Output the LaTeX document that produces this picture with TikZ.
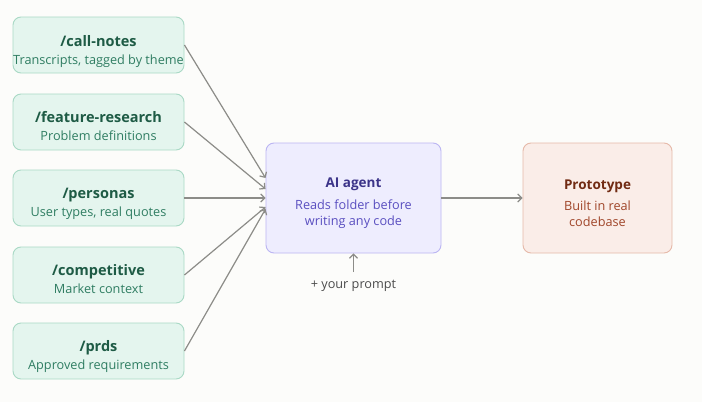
\documentclass[tikz,border=0pt]{standalone}
\usepackage{fontspec}
\setmainfont{Open Sans}
\usetikzlibrary{arrows.meta}
\definecolor{bgc}{HTML}{FCFCFA}
\definecolor{gfill}{HTML}{E4F5EE}
\definecolor{gdraw}{HTML}{A9D9C5}
\definecolor{gtitle}{HTML}{1E5B45}
\definecolor{gsub}{HTML}{2F7D62}
\definecolor{pfill}{HTML}{EEEDFE}
\definecolor{pdraw}{HTML}{BBB5F2}
\definecolor{ptitle}{HTML}{3C3489}
\definecolor{psub}{HTML}{5A4FC0}
\definecolor{ofill}{HTML}{FAEDE8}
\definecolor{odraw}{HTML}{E6B9A9}
\definecolor{otitle}{HTML}{712B13}
\definecolor{osub}{HTML}{A0462A}
\definecolor{arr}{HTML}{8C8C88}
\begin{document}
\begin{tikzpicture}[x=1pt,y=-1pt,
  basebox/.style={draw, line width=0.9pt, rounded corners=8pt, inner sep=0pt},
  greenbox/.style={basebox, fill=gfill, draw=gdraw, minimum width=171pt, minimum height=56pt},
  agentbox/.style={basebox, fill=pfill, draw=pdraw, minimum width=175pt, minimum height=110pt},
  protobox/.style={basebox, fill=ofill, draw=odraw, minimum width=149pt, minimum height=110pt},
  txtbase/.style={anchor=base, inner sep=0pt},
  greentitle/.style={txtbase, text=gtitle, font=\fontsize{14.5}{16}\selectfont\bfseries},
  greensub/.style={txtbase, text=gsub, font=\fontsize{12.7}{13}\selectfont},
  agenttitle/.style={txtbase, text=ptitle, font=\fontsize{13.5}{16}\selectfont\bfseries},
  agentsub/.style={txtbase, text=psub, font=\fontsize{12.7}{13}\selectfont},
  prototitle/.style={txtbase, text=otitle, font=\fontsize{13.5}{16}\selectfont\bfseries},
  protosub/.style={txtbase, text=osub, font=\fontsize{12.7}{13}\selectfont},
  con/.style={draw=arr, line width=1.2pt, -{Straight Barb[length=4pt,width=8pt]}}
]
\fill[bgc] (0,0) rectangle (702,402);
\useasboundingbox (0,0) rectangle (702,402);

\node[greenbox] (b1) at (98.5,45) {};
\node[greenbox] (b2) at (98.5,122) {};
\node[greenbox] (b3) at (98.5,198) {};
\node[greenbox] (b4) at (98.5,275) {};
\node[greenbox] (b5) at (98.5,351) {};

\node[greentitle] (t1) at (98.5,46) {/call-notes};
\node[greensub] (s1) at (98.5,64) {Transcripts, tagged by theme};
\node[greentitle] (t2) at (98.5,122) {/feature-research};
\node[greensub] (s2) at (98.5,140) {Problem definitions};
\node[greentitle] (t3) at (98.5,198) {/personas};
\node[greensub] (s3) at (98.5,216) {User types, real quotes};
\node[greentitle] (t4) at (98.5,275) {/competitive};
\node[greensub] (s4) at (98.5,293) {Market context};
\node[greentitle] (t5) at (98.5,351) {/prds};
\node[greensub] (s5) at (98.5,369) {Approved requirements};

\node[agentbox] (ai) at (353.5,198) {};
\node[agenttitle] (ait) at (353.5,187) {AI agent};
\node[agentsub] (ais1) at (353.5,209) {Reads folder before};
\node[agentsub] (ais2) at (353.5,225) {writing any code};

\node[protobox] (pr) at (597.5,198) {};
\node[prototitle] (prt) at (597.5,189) {Prototype};
\node[protosub] (prs1) at (597.5,210) {Built in real};
\node[protosub] (prs2) at (597.5,226) {codebase};

\node[txtbase, text=black!70, font=\fontsize{12.7}{13}\selectfont] (yp) at (353.5,288) {+ your prompt};
\coordinate (ypt) at (353.5,272);

\draw[con] (b1.east) -- ([yshift=20pt]ai.west);
\draw[con] (b2.east) -- ([yshift=9pt]ai.west);
\draw[con] (b3.east) -- (ai.west);
\draw[con] (b4.east) -- ([yshift=-9pt]ai.west);
\draw[con] (b5.east) -- ([yshift=-11pt]ai.west);
\draw[con] (ai.east) -- (pr.west);
\draw[con] (ypt) -- (ai.south);
\end{tikzpicture}
\end{document}
